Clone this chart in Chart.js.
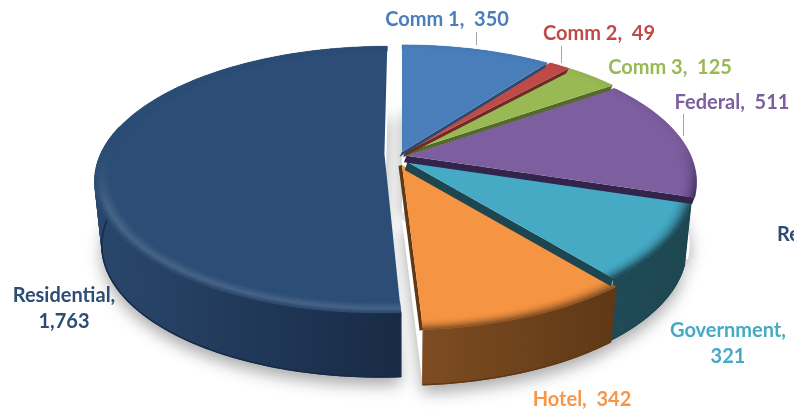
<!DOCTYPE html>
<html>
<head>
<meta charset="utf-8">
<style>
  html, body { margin: 0; padding: 0; background: #fff; overflow: hidden; }
  canvas { display: block; }
</style>
<script src="https://cdn.jsdelivr.net/npm/chart.js@4"></script>
</head>
<body>
<canvas id="pie" width="794" height="413"></canvas>
<script>
const categories = ["Comm 1", "Comm 2", "Comm 3", "Federal", "Government", "Hotel", "Residential"];
const values = [350, 49, 125, 511, 321, 342, 1763];
const valueText = ["350", "49", "125", "511", "321", "342", "1,763"];

const faceColors = ["#4a7ebb", "#be4b48", "#98b954", "#7d5fa0", "#46aac5", "#f59443", "#2c4d75"];
const wallLeft = ["#2b4a70", "#6f2a28", "#55692c", "#33244c", "#1f4a56", "#7d4c22", "#29476c"];
const wallRight = ["#2b4a70", "#6f2a28", "#55692c", "#33244c", "#1d4650", "#5f3816", "#182a45"];
const labelColors = ["#4a7ebb", "#be4b48", "#98b954", "#7d5fa0", "#46aac5", "#f79646", "#2c4d75"];

// label text anchors, centre of each line
const labelSpots = [
  [{ x: 447, y: 20, two: true }],
  [{ x: 599, y: 34, two: true }],
  [{ x: 670, y: 68, two: true }],
  [{ x: 732, y: 102.5, two: true }],
  [{ x: 728, y: 331, name: true }, { x: 728, y: 357 }],
  [{ x: 582, y: 399.5, two: true }],
  [{ x: 64, y: 295.5, name: true }, { x: 64, y: 321.5 }]
];
const leaders = [[476, 32, 476, 45], [561, 46, 561, 63], [683, 114, 683, 136]];

// fake 3d settings
const stretchX = 1.86;
const stretchY = 0.84;
const persp = 0.192;
const wallScale = 0.977;
const wallHeight = [0, 0, 0, 0, 63, 55, 64];
const sliceShift = [[0, 0], [0.012, 0], [0.014, 0], [0.016, -0.03], [0, -0.053], [0, -0.1], [-0.062, -0.015]];
const apexCut = [0, 0, 0, 0, 0.03, 0, 0];
const stripOffset = [[-2.6, 5.1], [-2.6, 5.1], [-2.6, 5.1], [-2.6, 6.5], [-2.6, 8], [-3.5, 1], null];
const rimGlow = [0, 0, 0, 0, 0, 0, 0.14];

function hexRgb(h) {
  return [1, 3, 5].map(i => parseInt(h.substr(i, 2), 16));
}
function mix(a, b, t) {
  const c = a.map((v, i) => Math.round(v + (b[i] - v) * t));
  return "rgb(" + c.join(",") + ")";
}

function project(arc, i, angle, r) {
  const th = angle + Math.PI / 2;
  const X = r * Math.sin(th) + sliceShift[i][0];
  const Y = r * Math.cos(th) + sliceShift[i][1];
  const s = 1 / (1 + persp * Y);
  return {
    x: arc.x + arc.outerRadius * stretchX * X * s,
    y: arc.y - arc.outerRadius * stretchY * Y * s,
    Y: Y
  };
}
function lower(arc, i, p) {
  return { x: arc.x + (p.x - arc.x) * wallScale, y: p.y + (wallHeight[i] || 62) };
}
function rimPoints(arc, i, r) {
  const pts = [];
  const n = Math.max(2, Math.ceil((arc.endAngle - arc.startAngle) / 0.02));
  for (let k = 0; k < n + 1; k++) {
    pts.push(project(arc, i, arc.startAngle + (arc.endAngle - arc.startAngle) * k / n, r));
  }
  return pts;
}
function polygon(ctx, pts) {
  ctx.beginPath();
  pts.forEach((p, k) => k ? ctx.lineTo(p.x, p.y) : ctx.moveTo(p.x, p.y));
  ctx.closePath();
}

function drawShadow(ctx, arc, i) {
  const top = rimPoints(arc, i, 1);
  const mid = (arc.startAngle + arc.endAngle) / 2;
  const apex = lower(arc, i, project(arc, i, mid, 0));
  ctx.save();
  ctx.shadowColor = "rgba(0,0,0,0.34)";
  ctx.shadowBlur = 16;
  ctx.shadowOffsetY = 8;
  ctx.fillStyle = "#fff";
  polygon(ctx, [apex].concat(top.map(p => lower(arc, i, p))));
  ctx.fill();
  ctx.restore();
}

function drawWall(ctx, arc, i) {
  // slices on the far side have no wall to see
  if (!wallHeight[i]) return;
  const top = rimPoints(arc, i, 1);
  const xs = top.map(p => p.x);
  const grad = ctx.createLinearGradient(Math.min(...xs), 0, Math.max(...xs), 0);
  grad.addColorStop(0, wallLeft[i]);
  grad.addColorStop(1, wallRight[i]);
  ctx.fillStyle = grad;
  ctx.strokeStyle = grad;
  ctx.lineWidth = 1.2;
  ctx.lineJoin = "round";
  for (let k = 0; k < top.length - 1; k++) {
    // the far part of the wall sits behind the face
    if (top[k].Y > 0.2) continue;
    polygon(ctx, [top[k], top[k + 1], lower(arc, i, top[k + 1]), lower(arc, i, top[k])]);
    ctx.fill();
    ctx.stroke();
  }
  // dark line along the foot of the wall
  ctx.strokeStyle = wallRight[i];
  ctx.lineWidth = 1.5;
  ctx.beginPath();
  let started = false;
  top.forEach(p => {
    if (p.Y > 0.2) return;
    const q = lower(arc, i, p);
    started ? ctx.lineTo(q.x, q.y) : ctx.moveTo(q.x, q.y);
    started = true;
  });
  ctx.stroke();
}

function drawFace(ctx, arc, i) {
  const off = stripOffset[i];
  const edge = [project(arc, i, arc.endAngle, apexCut[i]), project(arc, i, arc.endAngle, 1)];
  if (off) {
    ctx.fillStyle = wallRight[i];
    polygon(ctx, [edge[0], edge[1],
      { x: edge[1].x + off[0], y: edge[1].y + off[1] },
      { x: edge[0].x + off[0], y: edge[0].y + off[1] }]);
    ctx.fill();
  }
  ctx.fillStyle = faceColors[i];
  polygon(ctx, [project(arc, i, arc.startAngle, apexCut[i])].concat(rimPoints(arc, i, 1), [edge[0]]));
  ctx.fill();

  // soft rounded rim, mostly on the near side
  const face = hexRgb(faceColors[i]);
  const wall = hexRgb(wallLeft[i]);
  const glow = face.map(v => v + (255 - v) * rimGlow[i]);
  const rings = 9;
  const inner = 0.945;
  for (let q = 0; q < rings; q++) {
    const r0 = inner + (1 - inner) * q / rings;
    const r1 = inner + (1 - inner) * (q + 1) / rings;
    const t = (q + 0.5) / rings;
    const a = rimPoints(arc, i, r0);
    const b = rimPoints(arc, i, r1);
    for (let k = 0; k < a.length - 1; k++) {
      const near = Math.min(1, Math.max(0.1, (0.1 - a[k].Y) / 0.5));
      let c;
      if (rimGlow[i] > 0) {
        // highlight ridge then falling into the wall colour
        const ridge = face.map((v, n) => v + (glow[n] - v) * near * near);
        c = t < 0.6 ? mix(face, ridge, t / 0.6) : mix(ridge, wall, ((t - 0.6) / 0.4) * near);
      } else {
        c = mix(face, wall, t * t * near);
      }
      ctx.fillStyle = c;
      ctx.strokeStyle = c;
      ctx.lineWidth = 0.5;
      polygon(ctx, [a[k], a[k + 1], b[k + 1], b[k]]);
      ctx.fill();
      ctx.stroke();
    }
  }
}

const pie3d = {
  id: "pie3d",
  beforeDatasetsDraw(chart) {
    const ctx = chart.ctx;
    const arcs = chart.getDatasetMeta(0).data;
    arcs.forEach((arc, i) => drawShadow(ctx, arc, i));
    // walls back to front, then faces near to far so each strip lands on its neighbour
    [6, 0, 1, 2, 3, 4, 5].forEach(i => drawWall(ctx, arcs[i], i));
    [5, 4, 3, 2, 1, 0, 6].forEach(i => drawFace(ctx, arcs[i], i));
    return false;
  },
  afterDraw(chart) {
    const ctx = chart.ctx;
    ctx.strokeStyle = "#a6a6a6";
    ctx.lineWidth = 1;
    leaders.forEach(l => {
      ctx.beginPath();
      ctx.moveTo(l[0] + 0.5, l[1]);
      ctx.lineTo(l[2] + 0.5, l[3]);
      ctx.stroke();
    });
    ctx.font = "bold 20px Lato";
    ctx.textAlign = "center";
    ctx.textBaseline = "middle";
    categories.forEach((name, i) => {
      ctx.fillStyle = labelColors[i];
      labelSpots[i].forEach(s => {
        let text = valueText[i];
        if (s.two) text = name + ",  " + valueText[i];
        if (s.name) text = name + ",";
        ctx.fillText(text, s.x, s.y);
      });
    });
    // next label is cut off by the picture edge in the source
    ctx.fillStyle = "#2c4d75";
    ctx.textAlign = "left";
    ctx.fillText("Re", 777, 235);
  }
};

new Chart(document.getElementById("pie"), {
  type: "pie",
  data: {
    labels: categories,
    datasets: [{ data: values, backgroundColor: faceColors, borderWidth: 0 }]
  },
  options: {
    responsive: false,
    animation: false,
    layout: { padding: { left: 10, bottom: 109 } },
    plugins: { legend: { display: false }, tooltip: { enabled: false } }
  },
  plugins: [pie3d]
});
</script>
</body>
</html>
